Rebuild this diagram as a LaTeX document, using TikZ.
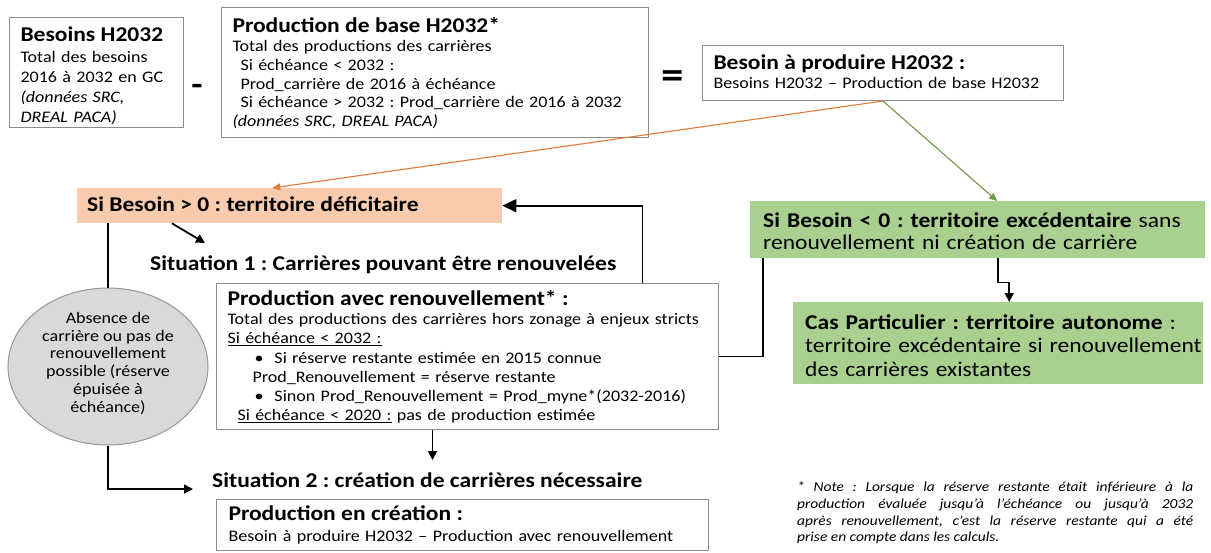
\documentclass[tikz,border=0pt]{standalone}
\usepackage{fontspec}
\setmainfont{Carlito}[FakeStretch=1.12]
\usepackage{xcolor}
\usepackage{tikz}
\usetikzlibrary{arrows.meta, calc, shapes.geometric}
\frenchspacing

\definecolor{cadre}{RGB}{140,140,140}
\definecolor{peche}{RGB}{248,203,173}
\definecolor{vert}{RGB}{169,208,142}
\definecolor{traitorange}{RGB}{228,122,52}
\definecolor{traitvert}{RGB}{112,150,72}
\definecolor{gris}{RGB}{217,217,217}
\definecolor{grisbord}{RGB}{150,150,150}

\newcommand{\titre}{\fontsize{21}{22}\selectfont\bfseries}
\newcommand{\corps}{\fontsize{16.1}{20}\selectfont}
\newcommand{\petit}{\fontsize{13.8}{16.7}\selectfont\itshape}
\newcommand{\haut}[1]{\rule{0pt}{#1pt}}
\newcommand{\bas}[1]{\rule[-#1pt]{0pt}{#1pt}}

\begin{document}
\begin{tikzpicture}[x=1pt, y=-1pt,
  every node/.style={font=\corps},
  boite/.style={draw=cadre, line width=1pt, fill=white, align=left,
    anchor=north west, inner xsep=11pt, inner ysep=0pt},
  zone/.style={anchor=north west, align=left, inner ysep=0pt},
  libre/.style={anchor=base west, inner sep=0pt, font=\titre},
  lien/.style={line width=1.8pt},
  fleche/.style={lien, -{Triangle[length=9pt, width=9pt]}},
  grosse/.style={lien, -{Triangle[length=14pt, width=13pt]}},
  fine/.style={line width=1.1pt, -{Triangle[length=8pt, width=7pt]}}]
  \useasboundingbox (0,0) rectangle (1211,552);
  % Besoins - Production de base = Besoin a produire
  \node[boite, text width=152pt, minimum height=110pt] (besoins) at (9,17)
    {\haut{23.8}{\titre Besoins H2032}\\[1.3pt]
     Total des besoins\\
     2016 à 2032 en GC\\
     \textit{(données SRC,}\\
     \textit{DREAL PACA)}\bas{4.5}};
  \node[boite, text width=405pt, minimum height=130pt,
    font=\fontsize{16.1}{18.9}\selectfont] (base) at (221,7)
    {\haut{18.6}{\titre Production de base H2032*}\\
     Total des productions des carrières\\
     \hspace*{8pt}Si échéance < 2032 :\\
     \hspace*{8pt}Prod\_carrière de 2016 à échéance\\
     \hspace*{8pt}Si échéance > 2032 : Prod\_carrière de 2016 à 2032\\
     \textit{(données SRC, DREAL PACA)}\bas{4.5}};
  \node[boite, text width=339pt, minimum height=55pt,
    font=\fontsize{16.1}{19.3}\selectfont] (produire) at (702,45)
    {\haut{16.8}{\titre Besoin à produire H2032 :}\\
     Besoins H2032 – Production de base H2032\bas{4.5}};
  \node[font=\fontsize{33}{33}\selectfont\bfseries] (moins) at (197,90) {-};
  \node[font=\fontsize{40}{40}\selectfont\bfseries] (egal) at (672.5,80) {=};
  % territoire deficitaire
  \node[zone, fill=peche, inner xsep=10pt, text width=405pt,
    minimum height=35pt] (deficit) at (77,188)
    {\haut{16.5}{\titre Si Besoin > 0 : territoire déficitaire}\bas{4.5}};
  \node[libre] (sit1) at (150,270) {Situation 1 : Carrières pouvant être renouvelées};
  \node[ellipse, draw=grisbord, line width=1pt, fill=gris, minimum width=200pt,
    minimum height=157pt, inner sep=0pt, align=center,
    font=\fontsize{16.1}{17.8}\selectfont] (absence) at (108,366.5)
    {\haut{12}Absence de\\ carrière ou pas de\\ renouvellement\\
     possible (réserve\\ épuisée à\\ échéance)\bas{9.4}};
  \node[boite, text width=480pt, minimum height=146pt,
    font=\fontsize{16.1}{19.2}\selectfont] (renouv) at (216,283)
    {\haut{18.3}{\titre Production avec renouvellement* :}\\
     \mbox{Total des productions des carrières hors zonage à enjeux stricts}\\
     \underline{Si échéance < 2032 :}\\
     \hspace*{27pt}•\hspace{11pt}Si réserve restante estimée en 2015 connue\\
     \hspace*{25pt}Prod\_Renouvellement = réserve restante\\
     \mbox{\hspace*{27pt}•\hspace{11pt}Sinon Prod\_Renouvellement = Prod\_myne*(2032-2016)}\\
     \hspace*{10pt}\underline{Si échéance < 2020 :} pas de production estimée\bas{5}};
  \node[libre] (sit2) at (212,487) {Situation 2 : création de carrières nécessaire};
  \node[boite, inner xsep=12pt, text width=468pt, minimum height=51pt,
    font=\fontsize{16.1}{21.3}\selectfont] (creation) at (216,499)
    {\haut{16.8}{\titre Production en création :}\\
     Besoin à produire H2032 – Production avec renouvellement\bas{4.5}};
  % territoire excedentaire
  \node[zone, fill=vert, inner xsep=13pt, text width=429pt, minimum height=57pt,
    font=\fontsize{21}{22}\selectfont] (exced) at (750,201)
    {\haut{22}\mbox{\textbf{Si Besoin < 0 : territoire excédentaire} sans}\\
     renouvellement ni création de carrière\bas{5}};
  \node[zone, fill=vert, inner xsep=12pt, text width=386pt, minimum height=82pt,
    font=\fontsize{21}{23.5}\selectfont] (cas) at (793,302)
    {\haut{24}\mbox{\textbf{Cas Particulier : territoire autonome} :}\\
     \mbox{territoire excédentaire si renouvellement}\\
     des carrières existantes\bas{5}};
  % note
  \node[anchor=north west, inner sep=0pt, text width=396pt, align=justify,
    font=\petit] (note) at (797,479.6)
    {\haut{12}* Note : Lorsque la réserve restante était inférieure à la\linebreak
     production évaluée jusqu’à l’échéance ou jusqu’à 2032\linebreak
     après renouvellement, c’est la réserve restante qui a été\linebreak
     prise en compte dans les calculs.};
  % connecteurs
  \draw[fine, traitorange] (produire.south) -- ([xshift=-17.5pt]deficit.north);
  \draw[fine, traitvert] (produire.south) -- ([xshift=19.5pt]exced.north);
  \draw[fleche] ([xshift=95pt]deficit.south west)
    -- ([xshift=55pt, yshift=27pt]sit1.base west);
  \draw[grosse] ([xshift=175pt]renouv.north) |- (deficit.east);
  \draw[lien] ([xshift=13pt]exced.south west) |- (renouv.east);
  \draw[fleche] ([xshift=20.5pt]exced.south) -- ++(0,24) -| ([xshift=11pt]cas.north);
  \draw[lien] (absence.north) -- (absence.north |- deficit.south);
  \draw[fleche] (absence.south) |- ([xshift=-19pt, yshift=-2pt]sit2.base west);
  \draw[fleche] ([xshift=-35pt]renouv.south) -- ++(0,30);
\end{tikzpicture}
\end{document}
